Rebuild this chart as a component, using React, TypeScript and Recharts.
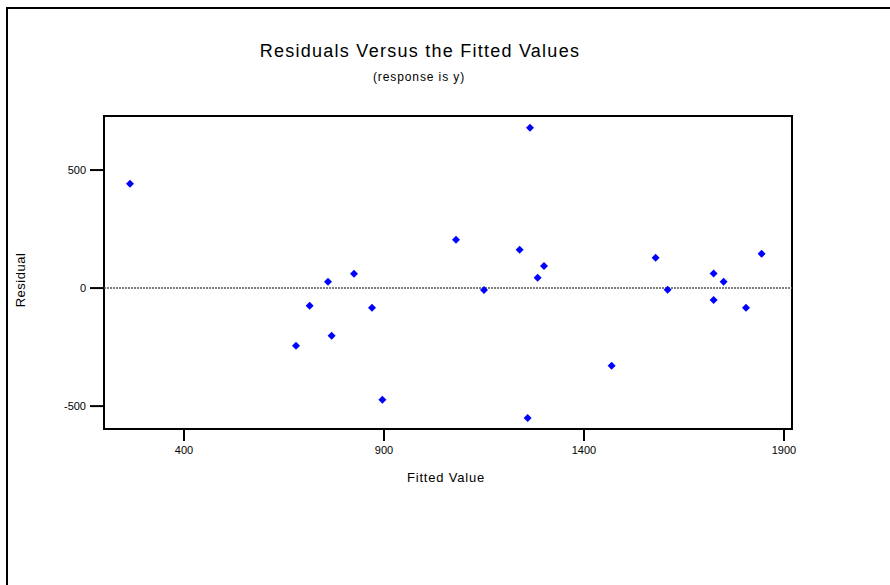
import React from "react";
import {
  ScatterChart,
  Scatter,
  XAxis,
  YAxis,
  ReferenceLine,
  ReferenceArea,
} from "recharts";

const fittedValues = [
  265, 680, 714, 760, 769, 825, 870, 896, 1080, 1150, 1239, 1259, 1265, 1284,
  1300, 1469, 1579, 1609, 1724, 1724, 1749, 1805, 1844,
];
const residuals = [
  442, -244, -75, 27, -202, 61, -83, -473, 205, -8, 162, -550, 679, 44, 94,
  -329, 128, -7, 62, -50, 27, -83, 145,
];
const xTicks = [400, 900, 1400, 1900];
const yTicks = [-500, 0, 500];
const xDomain = [200, 1920];
const yDomain = [-597, 729];

const points = fittedValues.map((x, i) => ({ x, y: residuals[i] }));

const font = "'Liberation Sans', Arial, sans-serif";

// small blue diamond like the Minitab marker
const Diamond = (props: any) => {
  const { cx, cy } = props;
  const r = 4;
  return (
    <path
      d={`M${cx},${cy - r}L${cx + r},${cy}L${cx},${cy + r}L${cx - r},${cy}Z`}
      fill="#0000ff"
    />
  );
};

const XLabel = (props: any) => {
  const vb = props.viewBox;
  return (
    <text
      x={vb.x + vb.width / 2 - 2}
      y={vb.y + 53}
      textAnchor="middle"
      fontFamily={font}
      fontSize={13}
      letterSpacing={0.8}
      fill="#000"
    >
      Fitted Value
    </text>
  );
};

const YLabel = (props: any) => {
  return (
    <text
      x={20}
      y={280}
      transform="rotate(-90 20 280)"
      textAnchor="middle"
      dominantBaseline="central"
      fontFamily={font}
      fontSize={13}
      letterSpacing={0.5}
      fill="#000"
    >
      Residual
    </text>
  );
};

export default function App() {
  return (
    <div
      style={{
        position: "absolute",
        left: 0,
        top: 0,
        width: 890,
        height: 585,
        background: "#fff",
        fontFamily: font,
      }}
    >
      {/* page frame */}
      <div
        style={{
          position: "absolute",
          left: 6,
          top: 7,
          right: 0,
          bottom: 0,
          borderTop: "2px solid #000",
          borderLeft: "2px solid #000",
        }}
      />
      <div
        style={{
          position: "absolute",
          left: 0,
          top: 42,
          width: 840,
          textAlign: "center",
          fontSize: 18,
          lineHeight: "18px",
          letterSpacing: 1.25,
          color: "#000",
        }}
      >
        Residuals Versus the Fitted Values
      </div>
      <div
        style={{
          position: "absolute",
          left: 0,
          top: 71,
          width: 838,
          textAlign: "center",
          fontSize: 12,
          lineHeight: "12px",
          letterSpacing: 0.9,
          color: "#000",
        }}
      >
        (response is y)
      </div>
      <div style={{ position: "absolute", left: 0, top: 0 }}>
        <ScatterChart
          width={890}
          height={585}
          margin={{ top: 116, right: 98, bottom: 96, left: 44 }}
        >
          <XAxis
            type="number"
            dataKey="x"
            domain={xDomain}
            ticks={xTicks}
            allowDataOverflow
            axisLine={false}
            tickLine={{ stroke: "#000", strokeWidth: 2 }}
            tickSize={12}
            tickMargin={5}
            height={60}
            tick={{ fill: "#000", fontSize: 11, fontFamily: font }}
            label={<XLabel />}
          />
          <YAxis
            type="number"
            dataKey="y"
            domain={yDomain}
            ticks={yTicks}
            allowDataOverflow
            axisLine={false}
            tickLine={{ stroke: "#000", strokeWidth: 2 }}
            tickSize={14}
            tickMargin={4}
            width={60}
            tick={{ fill: "#000", fontSize: 11, fontFamily: font }}
            label={<YLabel />}
          />
          <ReferenceLine
            y={0}
            stroke="#555"
            strokeWidth={1.5}
            strokeDasharray="2 1"
          />
          <ReferenceArea
            x1={xDomain[0]}
            x2={xDomain[1]}
            y1={yDomain[0]}
            y2={yDomain[1]}
            fill="none"
            fillOpacity={0}
            stroke="#000"
            strokeWidth={2}
          />
          <Scatter
            data={points}
            shape={<Diamond />}
            isAnimationActive={false}
          />
        </ScatterChart>
      </div>
    </div>
  );
}
